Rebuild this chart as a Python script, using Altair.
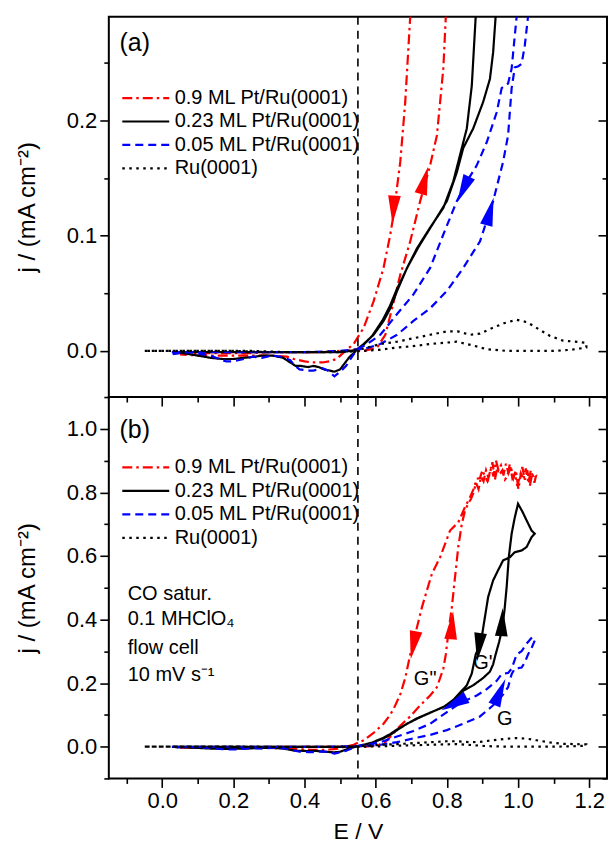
import altair as alt
import pandas as pd

FONT = "Arial, Liberation Sans, sans-serif"

SERIES = ["0.9 ML Pt/Ru(0001)", "0.23 ML Pt/Ru(0001)", "0.05 ML Pt/Ru(0001)", "Ru(0001)"]
COLORS = ["#ff0000", "#000000", "#0000ff", "#000000"]
DASHES = [[10, 4, 2.5, 4], [1, 0], [8, 5], [2.5, 4.5]]

# 0.9 ML Pt/Ru(0001): positive scan then return scan
E_09 = [0.05, 0.10, 0.15, 0.20, 0.25, 0.30, 0.35, 0.40, 0.45, 0.50, 0.53, 0.566, 0.604, 0.627, 0.646,
        0.669, 0.697, 0.725, 0.753, 0.772, 0.790, 0.797, 0.805, 0.814, 0.823, 0.832, 0.842, 0.851,
        0.860, 0.868, 0.875, 0.882, 0.889, 0.896, 0.903, 0.910, 0.917, 0.924, 0.931, 0.938, 0.945,
        0.952, 0.959, 0.966, 0.973, 0.980, 0.987, 0.994, 1.001, 1.008, 1.015, 1.022, 1.029, 1.036,
        1.043, 1.050,
        1.046, 1.040, 1.033, 1.026, 1.019, 1.012, 1.005, 0.998, 0.991, 0.984, 0.977, 0.970, 0.963,
        0.956, 0.949, 0.942, 0.935, 0.928, 0.921, 0.914, 0.907, 0.900, 0.893, 0.884, 0.875, 0.865,
        0.851, 0.832, 0.809, 0.795, 0.781, 0.758, 0.744, 0.730, 0.716, 0.705, 0.697, 0.683, 0.669,
        0.650, 0.641, 0.622, 0.594, 0.566, 0.538, 0.515, 0.49, 0.47, 0.45, 0.42, 0.40, 0.37, 0.35,
        0.30, 0.25, 0.20, 0.15, 0.10, 0.05]
J_09 = [-0.003, -0.002, -0.002, -0.002, -0.002, -0.001, -0.001, -0.001, -0.001, 0.000, 0.000, 0.000,
        0.003, 0.014, 0.037, 0.066, 0.095, 0.130, 0.161, 0.187, 0.245, 0.290, 0.366, 0.439, 0.534,
        0.628, 0.701, 0.743, 0.765, 0.780, 0.800, 0.830, 0.810, 0.850, 0.835, 0.870, 0.845, 0.880,
        0.850, 0.900, 0.870, 0.885, 0.855, 0.890, 0.860, 0.880, 0.845, 0.870, 0.810, 0.860, 0.840,
        0.875, 0.830, 0.870, 0.845, 0.850,
        0.830, 0.860, 0.820, 0.870, 0.840, 0.880, 0.850, 0.820, 0.860, 0.845, 0.890, 0.850, 0.840,
        0.870, 0.858, 0.880, 0.840, 0.895, 0.860, 0.835, 0.850, 0.870, 0.845, 0.843, 0.810, 0.785,
        0.754, 0.706, 0.680, 0.638, 0.596, 0.544, 0.492, 0.439, 0.376, 0.320, 0.290, 0.216, 0.164,
        0.118, 0.101, 0.072, 0.043, 0.020, 0.006, 0.000, -0.007, -0.009, -0.010, -0.010, -0.009,
        -0.007, -0.005, -0.004, -0.004, -0.004, -0.004, -0.004, -0.003]

# 0.23 ML Pt/Ru(0001)
E_023 = [0.03, 0.10, 0.20, 0.30, 0.40, 0.50, 0.530, 0.548, 0.565, 0.590, 0.620, 0.640, 0.660, 0.690,
         0.720, 0.760, 0.800, 0.828, 0.846, 0.874, 0.902, 0.921, 0.930, 0.937, 0.947, 0.955, 0.962,
         0.968, 0.974, 0.982, 0.991, 1.000, 1.012, 1.024, 1.038, 1.047,
         1.038, 1.024, 1.010, 0.991, 0.977, 0.958, 0.944, 0.930, 0.916, 0.907, 0.898, 0.889, 0.881,
         0.870, 0.856, 0.837, 0.818, 0.790, 0.753, 0.716, 0.688, 0.660, 0.641, 0.622, 0.594, 0.566,
         0.548, 0.538, 0.527, 0.517, 0.500, 0.484, 0.470, 0.455, 0.440, 0.425, 0.410, 0.390, 0.375,
         0.360, 0.340, 0.310, 0.280, 0.260, 0.230, 0.200, 0.170, 0.136, 0.100, 0.060, 0.030]
J_023 = [-0.001, -0.001, -0.001, -0.001, -0.001, -0.001, 0.000, 0.001, 0.005, 0.013, 0.027, 0.039,
         0.054, 0.073, 0.090, 0.110, 0.130, 0.155, 0.176, 0.193, 0.216, 0.236, 0.259, 0.290, 0.330,
         0.370, 0.430, 0.502, 0.596, 0.670, 0.722, 0.764, 0.740, 0.712, 0.680, 0.670,
         0.659, 0.628, 0.617, 0.612, 0.596, 0.586, 0.555, 0.523, 0.471, 0.408, 0.345, 0.310, 0.290,
         0.230, 0.193, 0.170, 0.147, 0.124, 0.107, 0.089, 0.072, 0.052, 0.037, 0.026, 0.014, 0.006,
         0.0015, -0.002, -0.005, -0.009, -0.016, -0.018, -0.017, -0.016, -0.014, -0.013, -0.014,
         -0.013, -0.013, -0.010, -0.006, -0.004, -0.004, -0.005, -0.006, -0.007, -0.007, -0.006,
         -0.004, -0.002, -0.001]

# 0.05 ML Pt/Ru(0001)
E_005 = [0.027, 0.10, 0.20, 0.30, 0.40, 0.50, 0.548, 0.566, 0.613, 0.660, 0.706, 0.753, 0.800, 0.846,
         0.893, 0.930, 0.958, 0.972, 0.982, 0.991, 1.001, 1.010, 1.019, 1.028, 1.038, 1.047,
         1.040, 1.024, 1.010, 0.996, 0.991, 0.982, 0.972, 0.954, 0.940, 0.912, 0.884, 0.856, 0.828,
         0.790, 0.753, 0.706, 0.660, 0.613, 0.576, 0.548, 0.538, 0.527, 0.517, 0.500, 0.484, 0.465,
         0.450, 0.440, 0.425, 0.410, 0.386, 0.370, 0.360, 0.335, 0.310, 0.280, 0.255, 0.230, 0.200,
         0.180, 0.160, 0.135, 0.114, 0.080, 0.050, 0.027]
J_005 = [-0.001, -0.001, -0.001, -0.001, -0.001, 0.000, 0.0015, 0.0015, 0.006, 0.014, 0.026, 0.037,
         0.052, 0.072, 0.095, 0.130, 0.164, 0.187, 0.228, 0.246, 0.247, 0.249, 0.265, 0.290, 0.310,
         0.334,
         0.345, 0.324, 0.300, 0.290, 0.274, 0.245, 0.232, 0.228, 0.207, 0.181, 0.161, 0.147, 0.130,
         0.101, 0.072, 0.049, 0.032, 0.014, 0.006, 0.0015, -0.003, -0.008, -0.013, -0.018, -0.022,
         -0.017, -0.015, -0.016, -0.017, -0.017, -0.016, -0.012, -0.008, -0.005, -0.004, -0.006,
         -0.005, -0.007, -0.009, -0.009, -0.007, -0.004, -0.003, -0.001, -0.002, -0.003]

# Ru(0001)
E_RU = [-0.049, 0.05, 0.15, 0.25, 0.35, 0.45, 0.52, 0.566, 0.613, 0.660, 0.706, 0.753, 0.800, 0.830,
        0.865, 0.893, 0.921, 0.960, 0.996, 1.025, 1.052, 1.090, 1.126, 1.160, 1.192,
        1.192, 1.150, 1.100, 1.033, 0.970, 0.912, 0.870, 0.828, 0.790, 0.753, 0.700, 0.660, 0.610,
        0.566, 0.50, 0.40, 0.30, 0.20, 0.10, 0.0, -0.049]
J_RU = [0.000, 0.000, 0.000, 0.000, -0.001, -0.001, 0.000, 0.002, 0.006, 0.008, 0.011, 0.014, 0.017,
        0.017, 0.014, 0.015, 0.019, 0.024, 0.027, 0.025, 0.020, 0.013, 0.009, 0.008, 0.007,
        0.003, 0.001, 0.000, 0.000, 0.000, 0.0015, 0.005, 0.008, 0.007, 0.006, 0.004, 0.003, 0.001,
        0.000, -0.001, -0.001, -0.001, 0.000, 0.000, 0.000, 0.000]

# scan-direction arrows
ARROW_A_E = [0.650, 0.737, 0.846, 0.921]
ARROW_A_J = [0.1225, 0.148, 0.140, 0.121]
ARROW_A_ANGLE = [184, 15, 205, 15]
ARROW_A_COLOR = ["#ff0000", "#ff0000", "#0000ff", "#0000ff"]

ARROW_B_E = [0.706, 0.814, 0.890, 0.955, 0.820, 0.949]
ARROW_B_J = [0.319, 0.382, 0.313, 0.392, 0.135, 0.172]
ARROW_B_ANGLE = [191, 5, 187, 3, 243, 23]
ARROW_B_COLOR = ["#ff0000", "#ff0000", "#000000", "#000000", "#0000ff", "#0000ff"]

# annotations
LABEL_A = ["(a)"]
LABEL_A_E = [-0.12]
LABEL_A_J = [0.267]
LABEL_B = ["(b)"]
LABEL_B_E = [-0.12]
LABEL_B_J = [0.996]
COND_TEXT = ["CO satur.", "0.1 MHClO\u2084", "flow cell", "10 mV s\u207b\u00b9"]
COND_E = [-0.097, -0.097, -0.097, -0.097]
COND_J = [0.479, 0.403, 0.309, 0.225]
G_TEXT = ['G"', "G'", "G"]
G_E = [0.739, 0.901, 0.963]
G_J = [0.212, 0.263, 0.087]

X_TICKS = [round(-0.1 + 0.1 * k, 2) for k in range(14)]
Y_TICKS_A = [0.0, 0.05, 0.1, 0.15, 0.2, 0.25]
Y_TICKS_B = [round(-0.1 + 0.1 * k, 2) for k in range(13)]

rows = []
for name, E, J in [(SERIES[0], E_09, J_09), (SERIES[1], E_023, J_023),
                   (SERIES[2], E_005, J_005), (SERIES[3], E_RU, J_RU)]:
    for i, (e, j) in enumerate(zip(E, J)):
        rows.append({"E": e, "j": j, "series": name, "i": i})
curves = pd.DataFrame(rows)

ARROW_SHAPE = "M0,-1L0.45,1L-0.45,1Z"
LEGEND_LINE = "M-1,0L3.7,0"


def major(step):
    return f"abs(datum.value/{step} - round(datum.value/{step})) < 0.01"


def out_axis(orient, values, step, title):
    t = major(step)
    kw = dict(orient=orient, values=values, domain=False, grid=False,
              tickColor="black", tickWidth=1.6,
              tickSize={"condition": {"test": t, "value": 9}, "value": 5},
              labelExpr=f"{t} ? format(datum.value, '.1f') : ''",
              labelFont=FONT, labelFontSize=22, labelColor="black", labelPadding=3,
              labelFlush=False, labelOverlap=False, labelBound=False,
              titleFont=FONT, titleFontSize=24 if orient == "left" else 23,
              titleFontWeight="normal", titleColor="black")
    if title:
        kw["title"] = title
        kw["titlePadding"] = 27 if orient == "left" else 9
    else:
        kw["title"] = None
    return alt.Axis(**kw)


def in_axis(orient, values, step):
    t = major(step)
    return alt.Axis(orient=orient, values=values, domain=False, grid=False, labels=False,
                    title=None, tickColor="black", tickWidth=1.6,
                    tickSize={"expr": f"{t} ? -9 : -5"})


def panel(ydom, yticks, ystep, height, arr_df, texts, legend_y, with_bottom):
    xs = alt.Scale(domain=[-0.15, 1.25], nice=False, zero=False)
    ys = alt.Scale(domain=ydom, nice=False, zero=False)
    leg = alt.Legend(title=None, orient="none", legendX=12, legendY=legend_y,
                     symbolType=LEGEND_LINE, symbolSize=400, symbolStrokeWidth=2.2,
                     labelFont=FONT, labelFontSize=20, labelColor="black", labelLimit=400,
                     rowPadding=1.5, padding=0, labelOffset=31)
    bottom = out_axis("bottom", X_TICKS, 0.2, "E / V") if with_bottom else None
    lines = alt.Chart(curves).mark_line(strokeWidth=2.2, clip=True).encode(
        x=alt.X("E:Q", scale=xs, axis=bottom),
        y=alt.Y("j:Q", scale=ys, axis=out_axis("left", yticks, ystep, "j / (mA cm\u207b\u00b2)")),
        color=alt.Color("series:N", scale=alt.Scale(domain=SERIES, range=COLORS),
                        sort=SERIES, legend=leg),
        strokeDash=alt.StrokeDash("series:N", scale=alt.Scale(domain=SERIES, range=DASHES),
                                  sort=SERIES, legend=leg),
        order="i:Q",
    )
    vline = alt.Chart(pd.DataFrame({"E": [0.55]})).mark_rule(
        color="black", strokeWidth=1.6, strokeDash=[8, 6]).encode(
        x=alt.X("E:Q", scale=xs, axis=in_axis("top", X_TICKS, 0.2)))
    arrows = alt.Chart(arr_df).mark_point(shape=ARROW_SHAPE, filled=True, size=800,
                                          opacity=1, strokeWidth=0).encode(
        x=alt.X("E:Q", scale=xs, axis=None),
        y=alt.Y("j:Q", scale=ys, axis=in_axis("right", yticks, ystep)),
        fill=alt.Fill("c:N", scale=None, legend=None),
        angle=alt.Angle("a:Q", scale=None),
    )
    layers = [lines, vline, arrows]
    for df, size, align in texts:
        layers.append(alt.Chart(df).mark_text(font=FONT, fontSize=size, align=align,
                                              baseline="middle", color="black").encode(
            x=alt.X("E:Q", scale=xs, axis=None),
            y=alt.Y("j:Q", scale=ys, axis=None),
            text="t:N"))
    return alt.layer(*layers).properties(width=499, height=height)


arr_a = pd.DataFrame({"E": ARROW_A_E, "j": ARROW_A_J, "a": ARROW_A_ANGLE, "c": ARROW_A_COLOR})
arr_b = pd.DataFrame({"E": ARROW_B_E, "j": ARROW_B_J, "a": ARROW_B_ANGLE, "c": ARROW_B_COLOR})

texts_a = [(pd.DataFrame({"E": LABEL_A_E, "j": LABEL_A_J, "t": LABEL_A}), 25, "left")]
texts_b = [(pd.DataFrame({"E": LABEL_B_E, "j": LABEL_B_J, "t": LABEL_B}), 25, "left"),
           (pd.DataFrame({"E": COND_E, "j": COND_J, "t": COND_TEXT}), 20, "left"),
           (pd.DataFrame({"E": G_E, "j": G_J, "t": G_TEXT}), 20, "center")]

pa = panel([-0.04, 0.29], Y_TICKS_A, 0.1, 381, arr_a, texts_a, 70, False)
pb = panel([-0.1, 1.1], Y_TICKS_B, 0.2, 382, arr_b, texts_b, 59, True)

chart = alt.vconcat(pa, pb, spacing=0, bounds="flush").resolve_scale(
    y="independent").resolve_legend(color="independent", strokeDash="independent").configure_view(
    stroke="black", strokeWidth=2).properties(
    padding={"left": 14, "top": 14, "right": 0, "bottom": 0})

chart.save("out.html", embed_options={"renderer": "svg", "actions": False})
